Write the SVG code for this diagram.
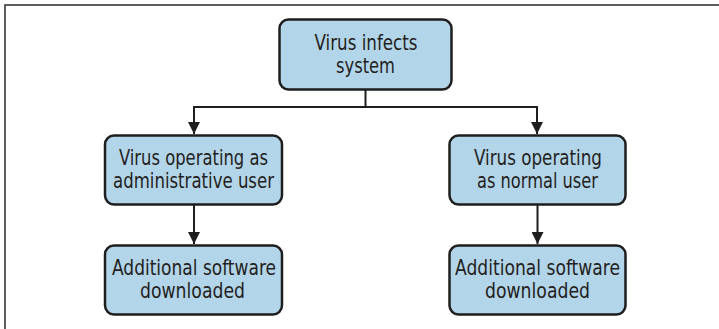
<svg xmlns="http://www.w3.org/2000/svg" width="719" height="329" viewBox="0 0 719 329">
<style>
.box{fill:#b3d5ea;stroke:#1e1e1e;stroke-width:2.5}
.t{font-family:"DejaVu Sans Condensed","Liberation Sans Narrow","Liberation Sans",sans-serif;font-size:21.5px;fill:#231f20;text-anchor:middle}
.c{fill:none;stroke:#1e1e1e;stroke-width:2}
.frame{fill:none;stroke:#2a2a2a;stroke-width:1.5}
</style>
<defs>
<marker id="a" viewBox="0 0 12 12" markerWidth="12" markerHeight="12" refX="12" refY="6" orient="auto" markerUnits="userSpaceOnUse">
<path d="M0,0 L12,6 L0,12 Z" fill="#1e1e1e"/>
</marker>
</defs>
<path class="frame" d="M5,329 V5 H719"/>
<g id="connectors">
<path class="c" d="M365.5,90 V107"/>
<path class="c" d="M194,107 H537"/>
<path class="c" d="M194,106 V134" marker-end="url(#a)"/>
<path class="c" d="M537,106 V134" marker-end="url(#a)"/>
<path class="c" d="M194,205 V244" marker-end="url(#a)"/>
<path class="c" d="M537.5,205 V244" marker-end="url(#a)"/>
</g>
<g id="n1">
<rect class="box" x="279.5" y="19.5" width="172" height="70" rx="9"/>
<text class="t" x="366" y="50" textLength="103" lengthAdjust="spacingAndGlyphs">Virus infects</text>
<text class="t" x="365.5" y="73" textLength="59" lengthAdjust="spacingAndGlyphs">system</text>
</g>
<g id="n2">
<rect class="box" x="105" y="135.5" width="177" height="69" rx="9"/>
<text class="t" x="193.5" y="165" textLength="149" lengthAdjust="spacingAndGlyphs">Virus operating as</text>
<text class="t" x="193.5" y="188" textLength="161" lengthAdjust="spacingAndGlyphs">administrative user</text>
</g>
<g id="n3">
<rect class="box" x="449.5" y="135.5" width="176" height="69" rx="9"/>
<text class="t" x="538" y="165" textLength="128" lengthAdjust="spacingAndGlyphs">Virus operating</text>
<text class="t" x="537.5" y="188" textLength="121" lengthAdjust="spacingAndGlyphs">as normal user</text>
</g>
<g id="n4">
<rect class="box" x="105" y="245.5" width="177" height="69" rx="9"/>
<text class="t" x="194" y="275" textLength="164" lengthAdjust="spacingAndGlyphs">Additional software</text>
<text class="t" x="192.5" y="298" textLength="105" lengthAdjust="spacingAndGlyphs">downloaded</text>
</g>
<g id="n5">
<rect class="box" x="449.5" y="245.5" width="176" height="69" rx="9"/>
<text class="t" x="537.5" y="275" textLength="165" lengthAdjust="spacingAndGlyphs">Additional software</text>
<text class="t" x="537.5" y="298" textLength="105" lengthAdjust="spacingAndGlyphs">downloaded</text>
</g>
</svg>
